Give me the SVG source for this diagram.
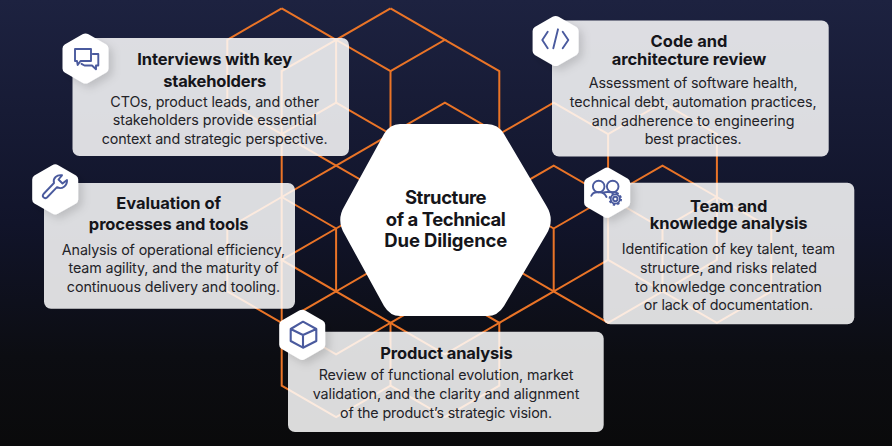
<svg xmlns="http://www.w3.org/2000/svg" width="892" height="446" viewBox="0 0 892 446">
<style>
text{font-family:Inter,"Liberation Sans",sans-serif;text-anchor:middle}
.t{font-size:16.5px;font-weight:700;fill:#15151a}
.b{font-size:14.3px;font-weight:400;fill:#232328}
.c{font-size:18.5px;font-weight:700;fill:#15151a}
.card{fill:#fff;fill-opacity:.85}
.hex{fill:#fff;filter:url(#sh)}
.ic{fill:none;stroke:#4a5a9e;stroke-width:1.9;stroke-linejoin:round;stroke-linecap:round}
#connectors path{fill:none;stroke:#ea7427;stroke-width:2;stroke-linejoin:miter}
</style>
<defs>
<linearGradient id="bg" x1="0" y1="0" x2="0" y2="1"><stop offset="0" stop-color="#1d2240"/><stop offset=".5" stop-color="#11142a"/><stop offset=".8" stop-color="#0c0d12"/><stop offset="1" stop-color="#0a0a0b"/></linearGradient>
<filter id="sh" x="-30%" y="-30%" width="170%" height="170%"><feDropShadow dx="4" dy="4" stdDeviation="4" flood-color="#000" flood-opacity=".14"/></filter>
<path id="h" d="M-3 -24.2 Q0 -26 3 -24.2 L20.8 -14 Q23 -12.7 23 -10 V10 Q23 12.7 20.8 14 L3 24.2 Q0 26 -3 24.2 L-20.8 14 Q-23 12.7 -23 10 V-10 Q-23 -12.7 -20.8 -14Z"/>
</defs>
<rect width="892" height="446" fill="url(#bg)"/>
<g id="connectors">
<path d="M281.7 8.3L227.3 39.8V102.7L281.7 134.1L336.1 102.7V39.8L281.7 8.3"/>
<path d="M336.1 39.8L281.7 71.2V385.7L336.1 417.2L390.5 385.7L444.9 417.2"/>
<path d="M390.5 8.3L336.1 39.8L390.5 71.2V134.1L336.1 102.7"/>
<path d="M390.5 8.3L444.9 39.8L390.5 71.2"/>
<path d="M390.5 134.1L444.9 102.7L499.3 134.1V71.2L444.9 39.8"/>
<path d="M499.3 134.1L553.7 102.7L608.1 134.1L662.5 102.7L716.9 134.1V259.9L662.5 291.4"/>
<path d="M608.1 134.1V259.9L662.5 291.4"/>
<path d="M281.7 134.1L336.1 165.6L390.5 197"/>
<path d="M336.1 165.6L390.5 134.1"/>
<path d="M336.1 165.6L281.7 197L227.3 228.5V291.4L281.7 322.8"/>
<path d="M281.7 197L336.1 228.5V291.4L281.7 259.9L336.1 228.5L390.5 197"/>
<path d="M336.1 291.4L281.7 322.8L336.1 354.3L390.5 322.8L336.1 291.4L390.5 259.9"/>
<path d="M390.5 322.8V385.7"/>
<path d="M390.5 322.8L444.9 354.3L499.3 322.8L444.9 291.4L390.5 322.8"/>
<path d="M499.3 322.8V385.7L444.9 417.2"/>
<path d="M499.3 322.8L553.7 291.4V228.5L608.1 197L662.5 165.6L716.9 197L771.3 228.5V291.4L716.9 322.8L662.5 291.4L608.1 322.8L553.7 291.4L608.1 259.9"/>
<path d="M553.7 228.5L499.3 197L553.7 165.6L608.1 197L662.5 228.5L716.9 197"/>
<path d="M662.5 228.5V291.4"/>
<path d="M499.3 259.9L553.7 291.4"/>
</g>
<g id="node-interviews">
<rect class="card" x="72.5" y="38" width="276.5" height="118" rx="7"/>
<text class="t" x="214.7" y="65" textLength="155">Interviews with key</text>
<text class="t" x="214.7" y="86.7" textLength="103">stakeholders</text>
<text class="b" x="214.7" y="106.7" textLength="208.7">CTOs, product leads, and other</text>
<text class="b" x="214.7" y="125.3" textLength="204">stakeholders provide essential</text>
<text class="b" x="214.7" y="144" textLength="226">context and strategic perspective.</text>
<use href="#h" class="hex" x="85.5" y="58.5"/>
<path class="ic" d="M75 49H91V61H80.5L77.7 65L77 61H75Z"/>
<path class="ic" d="M92.8 54H98.3V65.5H96V69.3L92 65.5H84.5L81.5 63.8"/>
</g>
<g id="node-evaluation">
<rect class="card" x="44" y="183" width="251" height="125.7" rx="7"/>
<text class="t" x="168.7" y="208.7" textLength="104.7">Evaluation of</text>
<text class="t" x="168.7" y="230" textLength="159.7">processes and tools</text>
<text class="b" x="173.5" y="254.7" textLength="223.3">Analysis of operational efficiency,</text>
<text class="b" x="173.5" y="273.4" textLength="210">team agility, and the maturity of</text>
<text class="b" x="173.5" y="292" textLength="213.3">continuous delivery and tooling.</text>
<use href="#h" class="hex" x="55.2" y="189.4"/>
<path class="ic" d="M54 183C52.5 178 57 174.5 62 175.3L58.5 179.5L62.5 183.5L67 180C67.5 185.5 62 190 57 187.2L47 197.5C44.5 199.5 41.5 196.5 43.5 194Z"/>
</g>
<g id="node-code">
<rect class="card" x="552" y="20.5" width="276.7" height="136" rx="7"/>
<text class="t" x="689" y="47" textLength="77">Code and</text>
<text class="t" x="689" y="65" textLength="154.7">architecture review</text>
<text class="b" x="693.2" y="88.3" textLength="209">Assessment of software health,</text>
<text class="b" x="693.2" y="107" textLength="246.7">technical debt, automation practices,</text>
<text class="b" x="693.2" y="125.7" textLength="202.7">and adherence to engineering</text>
<text class="b" x="693.2" y="144.3" textLength="96.7">best practices.</text>
<use href="#h" class="hex" x="555.6" y="41"/>
<path class="ic" d="M547.7 31.7L542.3 40L547.7 48.3M562.7 31.7L568.3 40L562.7 48.3M558 29.3L553.3 48.3"/>
</g>
<g id="node-team">
<rect class="card" x="603.3" y="182.7" width="251" height="141.6" rx="7"/>
<text class="t" x="728.7" y="211.7" textLength="77.3">Team and</text>
<text class="t" x="728.7" y="229.3" textLength="157.7">knowledge analysis</text>
<text class="b" x="728.5" y="254.3" textLength="213.3">Identification of key talent, team</text>
<text class="b" x="728.5" y="273" textLength="177">structure, and risks related</text>
<text class="b" x="728.5" y="291.7" textLength="187">to knowledge concentration</text>
<text class="b" x="728.5" y="310.3" textLength="169.3">or lack of documentation.</text>
<use href="#h" class="hex" x="607.1" y="192.7"/>
<circle class="ic" cx="598.7" cy="186.5" r="5.8"/>
<circle class="ic" cx="612.7" cy="186.5" r="5.8"/>
<path class="ic" d="M591.3 195.8C592.5 192.5 595 191.8 598.7 192.3C602 192 604.8 193.5 606.5 197"/>
<path class="ic" d="M603.5 192.5C605.5 191.8 608 191.8 612.5 192.4C614.5 192.2 616.5 192.5 618 193.5"/>
<circle class="ic" cx="615.3" cy="199" r="2.2"/>
<circle class="ic" cx="615.3" cy="199" r="4.6"/>
<circle cx="615.3" cy="199" r="5.8" fill="none" stroke="#4a5a9e" stroke-width="1.9" stroke-dasharray="2.3 2.25"/>
</g>
<g id="node-product">
<rect class="card" x="288" y="331.7" width="315.7" height="100.3" rx="7"/>
<text class="t" x="446.5" y="358.7" textLength="132.4">Product analysis</text>
<text class="b" x="446" y="380.3" textLength="254.7">Review of functional evolution, market</text>
<text class="b" x="446" y="399" textLength="266.7">validation, and the clarity and alignment</text>
<text class="b" x="446" y="417.6" textLength="212">of the product’s strategic vision.</text>
<use href="#h" class="hex" x="302.2" y="334.8"/>
<path class="ic" style="stroke-width:2.1" d="M303 321.7L316.3 329V341L303 347.7L290.7 341V329ZM290.7 329L303 335L316.3 329M303 335V347.7"/>
</g>
<g id="node-center">
<path fill="#fff" d="M400 124H487Q498 124 504 134L546.5 206Q555 220 546.5 234L504 306Q498 316 487 316H400Q390 316 384 306L344.5 234Q336 220 344.5 206L384 134Q390 124 400 124Z"/>
<text class="c" x="445.8" y="204.3" textLength="81.7">Structure</text>
<text class="c" x="445.8" y="225.7" textLength="120">of a Technical</text>
<text class="c" x="445.8" y="247.3" textLength="123">Due Diligence</text>
</g>
</svg>
